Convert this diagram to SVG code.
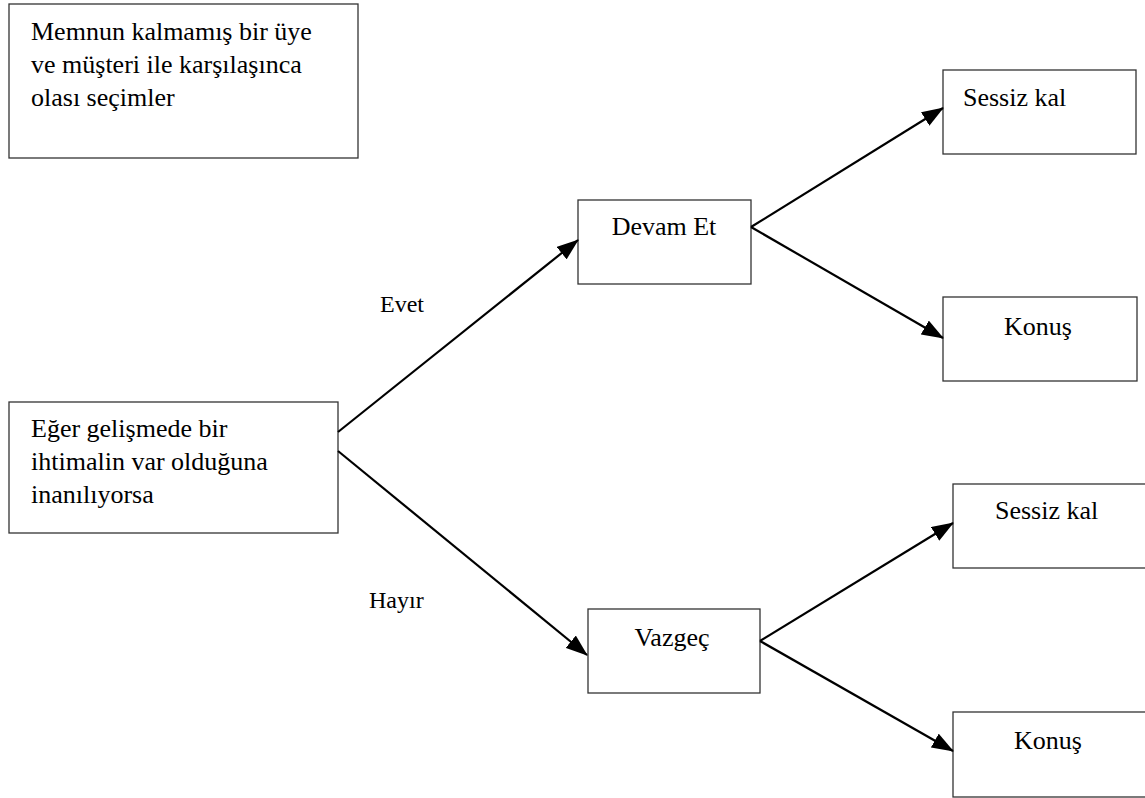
<svg xmlns="http://www.w3.org/2000/svg" width="1145" height="798" viewBox="0 0 1145 798">
<style>
.box{fill:#fff;stroke:#333;stroke-width:1.3}
.t{font-family:"Liberation Serif","Times New Roman",serif;font-size:26px;fill:#000}
.lbl{font-family:"Liberation Serif","Times New Roman",serif;font-size:24px;fill:#000}
.c{stroke:#000;stroke-width:2.2;fill:none;marker-end:url(#ah)}
</style>
<defs>
<marker id="ah" markerUnits="userSpaceOnUse" markerWidth="22" markerHeight="16" viewBox="0 0 22 16" refX="21" refY="8" orient="auto">
<path d="M0,0 L22,8 L0,16 Z" fill="#000"/>
</marker>
</defs>
<rect width="1145" height="798" fill="#fff"/>
<g id="title">
<rect class="box" x="9" y="4" width="349" height="154"/>
<text class="t" x="31" y="40">Memnun kalmamış bir üye</text>
<text class="t" x="31" y="73">ve müşteri ile karşılaşınca</text>
<text class="t" x="31" y="106">olası seçimler</text>
</g>
<g id="start">
<rect class="box" x="9" y="402" width="329" height="131"/>
<text class="t" x="31" y="437">Eğer gelişmede bir</text>
<text class="t" x="31" y="470">ihtimalin var olduğuna</text>
<text class="t" x="31" y="503">inanılıyorsa</text>
</g>
<g id="devam">
<rect class="box" x="578" y="200" width="173" height="84"/>
<text class="t" x="664" y="235" text-anchor="middle">Devam Et</text>
</g>
<g id="vazgec">
<rect class="box" x="588" y="609" width="172" height="84"/>
<text class="t" x="672" y="646" text-anchor="middle">Vazgeç</text>
</g>
<g id="sessiz1">
<rect class="box" x="943" y="70" width="193" height="84"/>
<text class="t" x="963" y="106">Sessiz kal</text>
</g>
<g id="konus1">
<rect class="box" x="943" y="297" width="194" height="84"/>
<text class="t" x="1004" y="335">Konuş</text>
</g>
<g id="sessiz2">
<rect class="box" x="953" y="484" width="193" height="84"/>
<text class="t" x="995" y="519">Sessiz kal</text>
</g>
<g id="konus2">
<rect class="box" x="953" y="712" width="193" height="85"/>
<text class="t" x="1014" y="749">Konuş</text>
</g>
<g id="connectors">
<line class="c" x1="338" y1="432" x2="578" y2="240"/>
<line class="c" x1="338" y1="451" x2="587" y2="655"/>
<line class="c" x1="751" y1="227" x2="943" y2="108"/>
<line class="c" x1="751" y1="227" x2="943" y2="338"/>
<line class="c" x1="760" y1="641" x2="953" y2="523"/>
<line class="c" x1="760" y1="641" x2="953" y2="751"/>
<text class="lbl" x="380" y="312">Evet</text>
<text class="lbl" x="369" y="608">Hayır</text>
</g>
</svg>
